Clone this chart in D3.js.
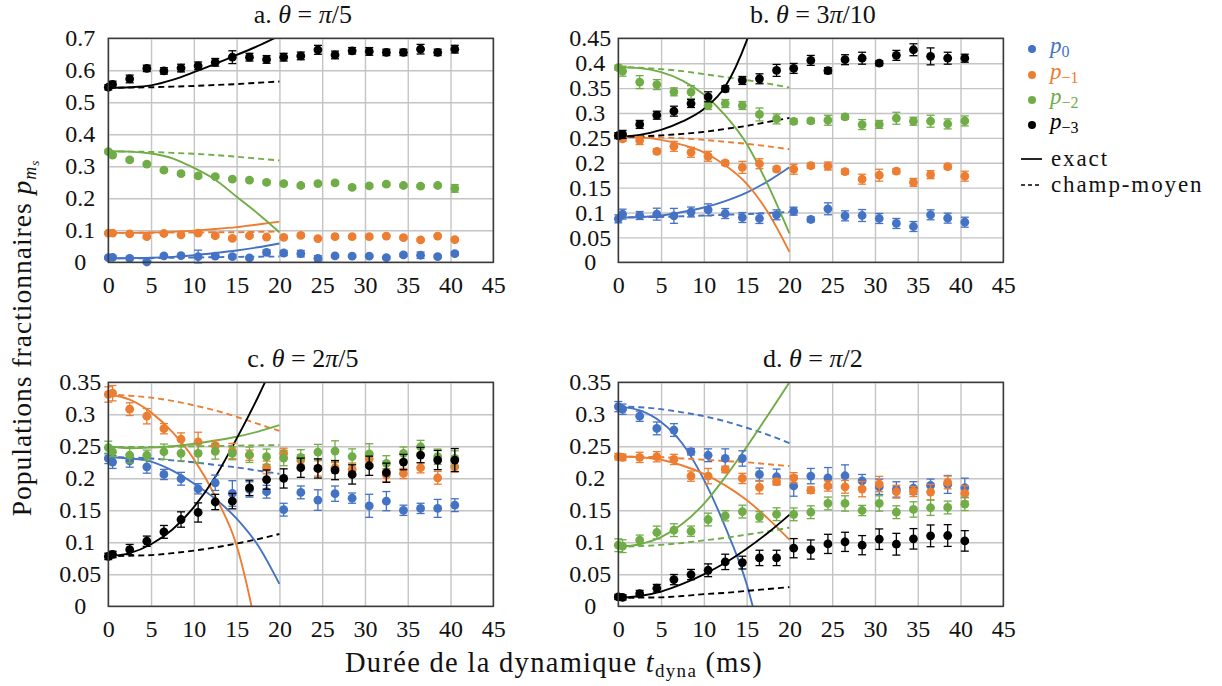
<!DOCTYPE html>
<html><head><meta charset="utf-8">
<script src="https://cdn.jsdelivr.net/npm/d3@7"></script>
<style>
body{margin:0;background:#fff;}
text{fill:#111;font-family:"Liberation Serif","DejaVu Serif",serif;}
</style></head><body><svg id="chart" width="1222" height="686"></svg>
<script>
// ---------- data ----------
const times = [0,0.5,2.5,4.5,6.5,8.5,10.5,12.5,14.5,16.5,18.5,20.5,22.5,24.5,26.5,28.5,30.5,32.5,34.5,36.5,38.5,40.5];
const theoryTimes = [0,2.5,5,7.5,10,12.5,15,17.5,20];
const xTicks = [0,5,10,15,20,25,30,35,40,45];
const yTicksA = [0,0.1,0.2,0.3,0.4,0.5,0.6,0.7];
const yTicksB = [0,0.05,0.1,0.15,0.2,0.25,0.3,0.35,0.4,0.45];
const yTicksCD = [0,0.05,0.1,0.15,0.2,0.25,0.3,0.35];
const panelLetters = ["a","b","c","d"];
const panelAngles = ["π/5","3π/10","2π/5","π/2"];
const seriesSubs = ["0","−1","−2","−3"];
const legendLines = ["exact","champ-moyen"];

// panel a : theta = pi/5
const a_p0 = [0.0146,0.0156,0.0125,0.001,0.020,0.021,0.018,0.019,0.018,0.0135,0.031,0.029,0.027,0.0125,0.020,0.019,0.019,0.0146,0.023,0.022,0.018,0.027];
const a_p1 = [0.091,0.091,0.089,0.080,0.090,0.086,0.091,0.083,0.075,0.083,0.079,0.078,0.084,0.074,0.080,0.080,0.080,0.082,0.077,0.070,0.082,0.071];
const a_p2 = [0.346,0.335,0.320,0.307,0.288,0.277,0.270,0.268,0.260,0.257,0.250,0.246,0.240,0.246,0.248,0.234,0.239,0.244,0.240,0.238,0.240,0.231];
const a_p3 = [0.547,0.556,0.573,0.606,0.598,0.607,0.614,0.625,0.641,0.641,0.634,0.641,0.645,0.664,0.648,0.661,0.659,0.656,0.656,0.666,0.656,0.666];
const a_p0_err = [0.004,0.004,0.004,0.004,0.004,0.004,0.02,0.004,0.006,0.004,0.008,0.008,0.01,0.008,0.004,0.004,0.004,0.004,0.005,0.01,0.004,0.006];
const a_p1_err = [0.004,0.004,0.004,0.005,0.004,0.004,0.005,0.004,0.005,0.004,0.004,0.004,0.005,0.004,0.004,0.004,0.004,0.004,0.004,0.004,0.004,0.004];
const a_p2_err = [0.005,0.005,0.005,0.005,0.005,0.005,0.005,0.005,0.005,0.005,0.005,0.005,0.005,0.005,0.005,0.005,0.005,0.005,0.005,0.005,0.005,0.012];
const a_p3_err = [0.008,0.01,0.012,0.01,0.01,0.012,0.012,0.012,0.02,0.012,0.012,0.012,0.012,0.014,0.012,0.01,0.012,0.01,0.01,0.015,0.01,0.012];
const a_p0_exact = [0.012,0.013,0.014,0.017,0.022,0.029,0.037,0.047,0.059];
const a_p0_mf = [0.012,0.0125,0.013,0.014,0.015,0.016,0.017,0.0175,0.018];
const a_p1_exact = [0.092,0.092,0.093,0.095,0.099,0.104,0.110,0.118,0.127];
const a_p1_mf = [0.092,0.092,0.0925,0.093,0.093,0.094,0.094,0.095,0.096];
const a_p2_exact = [0.347,0.346,0.340,0.325,0.295,0.258,0.205,0.152,0.094];
const a_p2_mf = [0.347,0.346,0.345,0.342,0.339,0.335,0.330,0.324,0.318];
const a_p3_exact = [0.545,0.547,0.553,0.570,0.594,0.620,0.648,0.676,0.708];
const a_p3_mf = [0.545,0.546,0.547,0.549,0.551,0.554,0.557,0.561,0.565];

// panel b : theta = 3pi/10
const b_p0 = [0.0873,0.0967,0.094,0.0967,0.0933,0.101,0.1054,0.098,0.090,0.088,0.0954,0.1027,0.086,0.1075,0.0933,0.094,0.088,0.078,0.0719,0.0954,0.0887,0.0806];
const b_p1 = [0.2545,0.248,0.2445,0.223,0.233,0.221,0.213,0.1995,0.1907,0.198,0.1874,0.187,0.194,0.1934,0.182,0.167,0.175,0.183,0.1605,0.176,0.192,0.173];
const b_p2 = [0.391,0.384,0.362,0.357,0.3425,0.342,0.315,0.319,0.315,0.297,0.288,0.283,0.284,0.2854,0.292,0.2767,0.277,0.2894,0.2834,0.2834,0.278,0.284];
const b_p3 = [0.2545,0.257,0.277,0.2955,0.3036,0.319,0.3325,0.3486,0.3653,0.3687,0.3855,0.3895,0.4056,0.385,0.407,0.410,0.400,0.4157,0.427,0.4137,0.410,0.410];
const b_p0_err = [0.008,0.01,0.008,0.012,0.015,0.01,0.012,0.01,0.01,0.01,0.01,0.008,0.005,0.012,0.01,0.012,0.01,0.01,0.01,0.01,0.01,0.01];
const b_p1_err = [0.005,0.005,0.008,0.005,0.01,0.01,0.01,0.005,0.012,0.01,0.005,0.01,0.005,0.008,0.005,0.01,0.012,0.005,0.008,0.008,0.005,0.01];
const b_p2_err = [0.005,0.01,0.013,0.01,0.008,0.013,0.008,0.008,0.008,0.013,0.01,0.005,0.005,0.01,0.005,0.01,0.008,0.012,0.008,0.012,0.01,0.01];
const b_p3_err = [0.006,0.008,0.008,0.008,0.01,0.008,0.01,0.006,0.008,0.01,0.012,0.01,0.01,0.006,0.01,0.012,0.005,0.01,0.012,0.017,0.012,0.008];
const b_p0_exact = [0.090,0.091,0.094,0.101,0.110,0.123,0.140,0.163,0.191];
const b_p0_mf = [0.090,0.0905,0.091,0.0925,0.094,0.0955,0.097,0.099,0.101];
const b_p1_exact = [0.252,0.251,0.246,0.236,0.221,0.195,0.158,0.100,0.021];
const b_p1_mf = [0.252,0.252,0.251,0.249,0.246,0.242,0.238,0.233,0.227];
const b_p2_exact = [0.392,0.390,0.382,0.365,0.337,0.295,0.238,0.155,0.058];
const b_p2_mf = [0.392,0.391,0.388,0.384,0.378,0.372,0.366,0.359,0.351];
const b_p3_exact = [0.252,0.256,0.266,0.283,0.308,0.353,0.445,0.580,0.750];
const b_p3_mf = [0.252,0.253,0.255,0.258,0.262,0.268,0.274,0.282,0.290];

// panel c : theta = 2pi/5
const c_p0 = [0.231,0.2254,0.2274,0.218,0.206,0.1993,0.1836,0.193,0.1763,0.1826,0.179,0.151,0.178,0.166,0.176,0.169,0.157,0.1643,0.150,0.153,0.153,0.158];
const c_p1 = [0.331,0.333,0.308,0.297,0.2775,0.261,0.257,0.251,0.2426,0.236,0.217,0.239,0.2285,0.2154,0.2165,0.2139,0.230,0.205,0.2076,0.2165,0.2008,0.218];
const c_p2 = [0.248,0.2415,0.236,0.236,0.2415,0.239,0.239,0.242,0.239,0.2368,0.2337,0.2316,0.2327,0.241,0.2426,0.234,0.238,0.2233,0.239,0.2493,0.2337,0.231];
const c_p3 = [0.078,0.081,0.0887,0.1017,0.1163,0.1356,0.1466,0.163,0.1643,0.185,0.198,0.1998,0.2165,0.2154,0.2128,0.206,0.2196,0.2087,0.2254,0.2363,0.2285,0.2285];
const c_p0_err = [0.008,0.01,0.01,0.01,0.008,0.01,0.008,0.012,0.02,0.012,0.01,0.01,0.01,0.016,0.012,0.008,0.018,0.015,0.008,0.008,0.014,0.01];
const c_p1_err = [0.012,0.012,0.01,0.012,0.008,0.01,0.015,0.008,0.012,0.008,0.01,0.008,0.008,0.012,0.008,0.01,0.008,0.01,0.008,0.008,0.01,0.008];
const c_p2_err = [0.01,0.008,0.012,0.008,0.012,0.012,0.015,0.012,0.01,0.012,0.012,0.012,0.012,0.012,0.016,0.012,0.016,0.012,0.01,0.01,0.012,0.012];
const c_p3_err = [0.005,0.005,0.008,0.008,0.01,0.012,0.015,0.012,0.012,0.012,0.015,0.015,0.015,0.015,0.015,0.015,0.015,0.015,0.012,0.012,0.015,0.018];
const c_p0_exact = [0.233,0.231,0.226,0.212,0.192,0.168,0.137,0.095,0.035];
const c_p0_mf = [0.233,0.2325,0.231,0.228,0.225,0.221,0.217,0.212,0.207];
const c_p1_exact = [0.331,0.323,0.303,0.272,0.230,0.172,0.095,-0.05,-0.25];
const c_p1_mf = [0.331,0.329,0.326,0.321,0.314,0.306,0.296,0.285,0.274];
const c_p2_exact = [0.250,0.247,0.248,0.250,0.254,0.259,0.265,0.273,0.283];
const c_p2_mf = [0.249,0.249,0.249,0.2495,0.250,0.2505,0.251,0.2515,0.252];
const c_p3_exact = [0.078,0.083,0.097,0.120,0.155,0.202,0.262,0.327,0.400];
const c_p3_mf = [0.078,0.079,0.080,0.083,0.087,0.092,0.098,0.105,0.113];

// panel d : theta = pi/2
const d_p0 = [0.312,0.308,0.297,0.278,0.2754,0.2415,0.236,0.231,0.231,0.206,0.2024,0.188,0.2034,0.2008,0.204,0.196,0.1867,0.1826,0.1847,0.1888,0.1904,0.1852];
const d_p1 = [0.2337,0.2327,0.2327,0.2337,0.2295,0.2034,0.2034,0.2139,0.1998,0.1857,0.1946,0.2008,0.1815,0.188,0.1867,0.1831,0.191,0.179,0.1794,0.1784,0.1935,0.1763];
const d_p2 = [0.0955,0.094,0.1033,0.1153,0.119,0.1174,0.1356,0.1414,0.148,0.1398,0.1439,0.1437,0.147,0.1607,0.1607,0.1497,0.1607,0.147,0.1513,0.154,0.1544,0.1596];
const d_p3 = [0.0146,0.014,0.0198,0.0282,0.0417,0.0496,0.0563,0.0694,0.0683,0.0756,0.0756,0.0908,0.0887,0.0975,0.1007,0.0955,0.1049,0.097,0.1054,0.1101,0.1106,0.1022];
const d_p0_err = [0.008,0.008,0.008,0.01,0.01,0.005,0.01,0.015,0.012,0.01,0.012,0.016,0.012,0.016,0.017,0.01,0.012,0.012,0.01,0.01,0.014,0.015];
const d_p1_err = [0.005,0.005,0.008,0.008,0.008,0.008,0.012,0.005,0.008,0.01,0.005,0.008,0.005,0.008,0.01,0.012,0.012,0.01,0.008,0.012,0.01,0.012];
const d_p2_err = [0.01,0.01,0.008,0.01,0.01,0.008,0.01,0.008,0.01,0.008,0.01,0.01,0.01,0.01,0.012,0.008,0.012,0.01,0.012,0.012,0.01,0.01];
const d_p3_err = [0.004,0.004,0.005,0.006,0.008,0.008,0.01,0.012,0.01,0.012,0.012,0.015,0.015,0.015,0.015,0.015,0.016,0.017,0.016,0.017,0.017,0.016];
const d_p0_exact = [0.312,0.306,0.288,0.254,0.198,0.124,0.035,-0.10,-0.25];
const d_p0_mf = [0.312,0.311,0.308,0.303,0.297,0.289,0.279,0.268,0.255];
const d_p1_exact = [0.234,0.233,0.229,0.220,0.207,0.189,0.166,0.137,0.104];
const d_p1_mf = [0.234,0.2335,0.233,0.231,0.229,0.227,0.225,0.222,0.219];
const d_p2_exact = [0.093,0.097,0.108,0.129,0.160,0.202,0.249,0.299,0.350];
const d_p2_mf = [0.093,0.094,0.096,0.099,0.103,0.107,0.112,0.117,0.123];
const d_p3_exact = [0.013,0.016,0.023,0.035,0.050,0.068,0.090,0.115,0.143];
const d_p3_mf = [0.013,0.0135,0.014,0.016,0.019,0.021,0.024,0.027,0.030];

// ---------- styles / layout ----------
const colors = ["#4472C4","#ED7D31","#70AD47","#000000"];
const PW = 385, PH = 224;
const layout = [
  {left:108.3, top:38.3, yMax:0.7,  yTicks:yTicksA},
  {left:618.3, top:38.3, yMax:0.45, yTicks:yTicksB},
  {left:108.3, top:382.3, yMax:0.35, yTicks:yTicksCD},
  {left:618.3, top:382.3, yMax:0.35, yTicks:yTicksCD}
];
const obsSets = [[a_p0,a_p1,a_p2,a_p3],[b_p0,b_p1,b_p2,b_p3],[c_p0,c_p1,c_p2,c_p3],[d_p0,d_p1,d_p2,d_p3]];
const errSets = [[a_p0_err,a_p1_err,a_p2_err,a_p3_err],[b_p0_err,b_p1_err,b_p2_err,b_p3_err],[c_p0_err,c_p1_err,c_p2_err,c_p3_err],[d_p0_err,d_p1_err,d_p2_err,d_p3_err]];
const exactSets = [[a_p0_exact,a_p1_exact,a_p2_exact,a_p3_exact],[b_p0_exact,b_p1_exact,b_p2_exact,b_p3_exact],[c_p0_exact,c_p1_exact,c_p2_exact,c_p3_exact],[d_p0_exact,d_p1_exact,d_p2_exact,d_p3_exact]];
const mfSets = [[a_p0_mf,a_p1_mf,a_p2_mf,a_p3_mf],[b_p0_mf,b_p1_mf,b_p2_mf,b_p3_mf],[c_p0_mf,c_p1_mf,c_p2_mf,c_p3_mf],[d_p0_mf,d_p1_mf,d_p2_mf,d_p3_mf]];

const svg = d3.select("#chart");
const fmt = d3.format("~g");
const TICK_FS = 24;

layout.forEach((L, pi) => {
  const g = svg.append("g").attr("transform", `translate(${L.left},${L.top})`);
  const x = d3.scaleLinear().domain([0,45]).range([0,PW]);
  const y = d3.scaleLinear().domain([0,L.yMax]).range([PH,0]);

  // grid
  g.append("g")
    .call(d3.axisBottom(x).tickValues(xTicks).tickSize(PH).tickFormat(""))
    .call(s => { s.select(".domain").remove(); s.selectAll("line").attr("stroke","#c4c4c4").attr("stroke-width",1.4); });
  g.append("g")
    .call(d3.axisLeft(y).tickValues(L.yTicks).tickSize(-PW).tickFormat(""))
    .call(s => { s.select(".domain").remove(); s.selectAll("line").attr("stroke","#c4c4c4").attr("stroke-width",1.4); });

  // tick labels
  const xa = g.append("g").attr("transform",`translate(0,${PH})`)
    .call(d3.axisBottom(x).tickValues(xTicks).tickSize(0).tickPadding(14).tickFormat(d3.format("d")));
  xa.select(".domain").remove();
  xa.selectAll("text").attr("font-size",TICK_FS);
  const ya = g.append("g")
    .call(d3.axisLeft(y).tickValues(L.yTicks).tickSize(0).tickFormat(fmt));
  ya.select(".domain").remove();
  ya.selectAll("text").attr("font-size",TICK_FS).attr("text-anchor","middle").attr("x",-28);

  // clip
  const cid = "clip"+pi;
  g.append("clipPath").attr("id",cid).append("rect").attr("width",PW).attr("height",PH);
  const plot = g.append("g").attr("clip-path",`url(#${cid})`);

  const line = d3.line().x(d=>x(d[0])).y(d=>y(d[1])).curve(d3.curveMonotoneX);
  for (let s=0; s<4; s++) {
    plot.append("path").datum(theoryTimes.map((t,i)=>[t,mfSets[pi][s][i]]))
      .attr("d",line).attr("fill","none").attr("stroke",colors[s]).attr("stroke-width",1.9)
      .attr("stroke-dasharray","6,4");
    plot.append("path").datum(theoryTimes.map((t,i)=>[t,exactSets[pi][s][i]]))
      .attr("d",line).attr("fill","none").attr("stroke",colors[s]).attr("stroke-width",1.9);
  }
  for (let s=0; s<4; s++) {
    const pts = times.map((t,i)=>({t, v:obsSets[pi][s][i], e:errSets[pi][s][i]}));
    const eg = g.append("g").attr("stroke",colors[s]).attr("stroke-width",1.3);
    eg.selectAll("line.v").data(pts).join("line").attr("class","v")
      .attr("x1",d=>x(d.t)).attr("x2",d=>x(d.t)).attr("y1",d=>y(d.v-d.e)).attr("y2",d=>y(d.v+d.e));
    eg.selectAll("line.t").data(pts).join("line").attr("class","t")
      .attr("x1",d=>x(d.t)-4).attr("x2",d=>x(d.t)+4).attr("y1",d=>y(d.v+d.e)).attr("y2",d=>y(d.v+d.e));
    eg.selectAll("line.b").data(pts).join("line").attr("class","b")
      .attr("x1",d=>x(d.t)-4).attr("x2",d=>x(d.t)+4).attr("y1",d=>y(d.v-d.e)).attr("y2",d=>y(d.v-d.e));
    g.append("g").selectAll("circle").data(pts).join("circle")
      .attr("cx",d=>x(d.t)).attr("cy",d=>y(d.v)).attr("r",4.4).attr("fill",colors[s]);
  }

  // frame
  g.append("rect").attr("width",PW).attr("height",PH).attr("fill","none")
    .attr("stroke","#3a3a3a").attr("stroke-width",1.5);

  // title
  const tt = g.append("text").attr("x",PW/2+2).attr("y",-15).attr("text-anchor","middle").attr("font-size",26);
  tt.append("tspan").text(panelLetters[pi]+". ");
  tt.append("tspan").attr("font-style","italic").text("θ");
  tt.append("tspan").text(" = ");
  const parts = panelAngles[pi].split("π");
  if (parts[0]) tt.append("tspan").text(parts[0]);
  tt.append("tspan").attr("font-style","italic").text("π");
  tt.append("tspan").text(parts[1]);
});

// legend
const lg = svg.append("g").attr("transform","translate(1032,0)");
const legY = [49,75,100,125];
seriesSubs.forEach((sub,i)=>{
  lg.append("circle").attr("cx",0).attr("cy",legY[i]).attr("r",4).attr("fill",colors[i]);
  const t = lg.append("text").attr("x",18).attr("y",legY[i]+4).attr("font-size",23)
    .style("fill",colors[i]);
  t.append("tspan").attr("font-style","italic").text("p");
  t.append("tspan").attr("font-size",16).attr("dy",4).text(sub);
});
[159,185].forEach((yy,i)=>{
  lg.append("line").attr("x1",-11).attr("x2",10).attr("y1",yy).attr("y2",yy)
    .attr("stroke","#000").attr("stroke-width",1.7).attr("stroke-dasharray", i===1 ? "4,3" : null);
  lg.append("text").attr("x",19).attr("y",yy+7).attr("font-size",23).attr("letter-spacing",1.9).text(legendLines[i]);
});

// axis titles
const xl = svg.append("text").attr("x",554).attr("y",672).attr("text-anchor","middle")
  .attr("font-size",28.5).attr("letter-spacing",1.3);
xl.append("tspan").text("Durée de la dynamique ");
xl.append("tspan").attr("font-style","italic").text("t");
xl.append("tspan").attr("font-size",19).attr("dy",5).text("dyna");
xl.append("tspan").attr("dy",-5).text(" (ms)");

const yl = svg.append("text").attr("transform","translate(31,338) rotate(-90)").attr("text-anchor","middle")
  .attr("font-size",27.5).attr("letter-spacing",1.0);
yl.append("tspan").text("Populations fractionnaires ");
yl.append("tspan").attr("font-style","italic").text("p");
yl.append("tspan").attr("font-style","italic").attr("font-size",18).attr("dy",5).text("m");
yl.append("tspan").attr("font-style","italic").attr("font-size",13).attr("dy",3).text("s");

svg.selectAll("g").attr("font-family",null);
</script></body></html>
